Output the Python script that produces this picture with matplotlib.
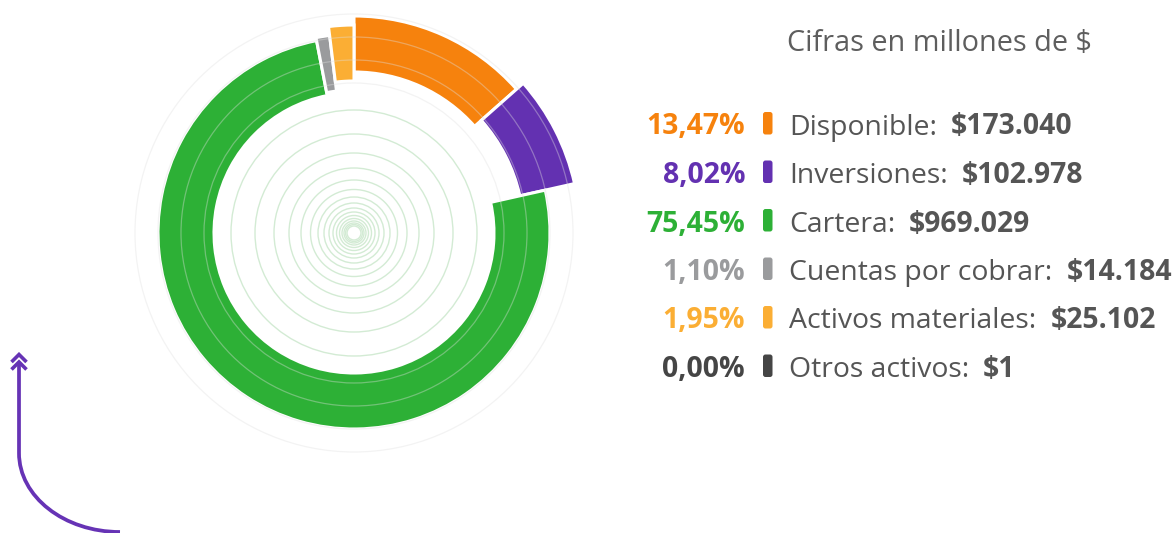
import matplotlib
matplotlib.use('Agg')
import matplotlib.pyplot as plt
from matplotlib.patches import Wedge, Circle, FancyBboxPatch, PathPatch
from matplotlib.path import Path

# ---------------- data ----------------
categories = ['Disponible', 'Inversiones', 'Cartera', 'Cuentas por cobrar',
              'Activos materiales', 'Otros activos']
values = [173040, 102978, 969029, 14184, 25102, 1]
percent_labels = ['13,47%', '8,02%', '75,45%', '1,10%', '1,95%', '0,00%']
value_labels = ['$173.040', '$102.978', '$969.029', '$14.184', '$25.102', '$1']
title_text = 'Cifras en millones de $'

# ---------------- style ----------------
colors = ['#F6820D', '#6331B1', '#2DB036', '#9A9B9D', '#FBAE34', '#454545']
inner_radius = [161, 170, 140, 143, 152, 140]   # px, per segment offset
ring_width = 56
grid_radii = [150, 173, 196, 219]
deco_radii = [123, 99, 80, 65, 53, 43.5, 36, 30, 25, 21, 17.5, 14.5, 12, 10, 8.5, 7]
FONT = 'Open Sans'
FS = 20.4
text_gray = '#555555'

W, H = 1174, 533
cx, cy = 354, 233

fig = plt.figure(figsize=(W / 100, H / 100), dpi=100)
ax = fig.add_axes([0, 0, 1, 1])
ax.set_xlim(0, W)
ax.set_ylim(H, 0)
ax.axis('off')

# decorative inner circles
for r in deco_radii:
    ax.add_patch(Circle((cx, cy), r, fill=False, ec='#d3ebd4', lw=1.0, zorder=1))

# ring segments (clockwise from 12 o'clock)
total = float(sum(values))
start = 0.0
for v, c, ri in zip(values, colors, inner_radius):
    frac = v / total
    t1 = -90 + start * 360
    t2 = -90 + (start + frac) * 360
    if frac > 0.0005:
        ax.add_patch(Wedge((cx, cy), ri + ring_width, t1, t2, width=ring_width,
                           fc=c, ec='white', lw=2.2, zorder=2))
    start += frac

# radial grid circles over bars
for r in grid_radii:
    ax.add_patch(Circle((cx, cy), r, fill=False, ec=(0.88, 0.88, 0.88, 0.38),
                        lw=0.9, zorder=3))

# ---------------- legend ----------------
ax.text(787, 51, title_text, fontsize=FS + 0.4, family=FONT, color='#5e5e5e',
        va='baseline', ha='left')

fig.canvas.draw()
renderer = fig.canvas.get_renderer()
base0 = 134.5
step = 48.5
for i, (cat, pl, vl, c) in enumerate(zip(categories, percent_labels, value_labels, colors)):
    yb = base0 + i * step
    ax.text(745, yb, pl, fontsize=FS, family=FONT, weight='bold', color=c,
            ha='right', va='baseline')
    ax.add_patch(FancyBboxPatch((763, yb - 22.5), 9.5, 22.5,
                                boxstyle='round,pad=0,rounding_size=2.5',
                                fc=c, ec='none', zorder=4))
    t = ax.text(789, yb, cat + ':', fontsize=FS, family=FONT, color=text_gray,
                ha='left', va='baseline')
    bb = t.get_window_extent(renderer)
    ax.text(bb.x1 + 14, yb, vl, fontsize=FS, family=FONT, weight='bold',
            color=text_gray, ha='left', va='baseline')

# ---------------- decorative arrow ----------------
purple = '#6633B5'
k = 0.5523
verts = [(19, 364), (19, 453),
         (19, 453 + k * 79), (120 - k * 101, 532), (120, 532)]
codes = [Path.MOVETO, Path.LINETO, Path.CURVE4, Path.CURVE4, Path.CURVE4]
ax.add_patch(PathPatch(Path(verts, codes), fill=False, ec=purple, lw=2.7,
                       capstyle='butt', zorder=5))
for dy in (0, 7.5):
    ax.plot([11.5, 19, 26.5], [362 + dy, 354.5 + dy, 362 + dy], color=purple,
            lw=2.6, solid_capstyle='butt', solid_joinstyle='miter', zorder=5)

fig.savefig('out.png', dpi=100)
